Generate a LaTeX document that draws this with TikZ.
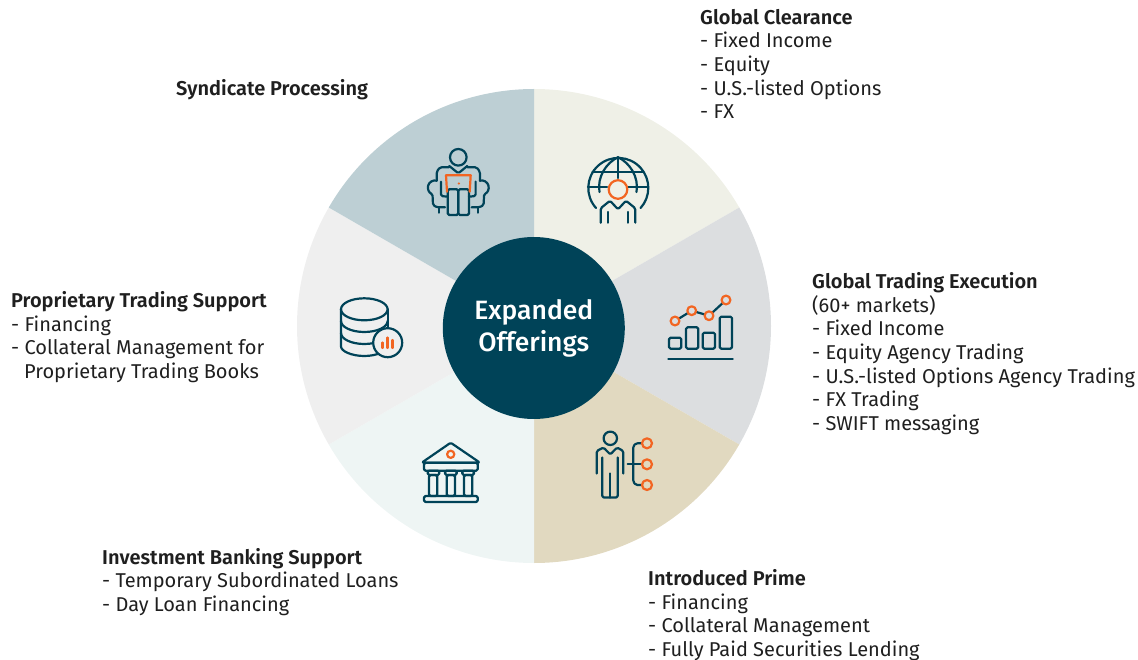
\documentclass[tikz,border=0pt]{standalone}
\usepackage{fontspec}
\setmainfont{Fira Sans}
\newfontfamily\headfont{Fira Sans SemiBold}
\newfontfamily\hubfont{Fira Sans Medium}
\newcommand{\hd}[1]{{\headfont #1}}
\definecolor{teal}{HTML}{004358}
\definecolor{orng}{HTML}{F26522}
\definecolor{txt}{HTML}{1F1F1F}
\definecolor{sa}{HTML}{EFF0E7}
\definecolor{sb}{HTML}{DCDEE0}
\definecolor{sc}{HTML}{E1D9C0}
\definecolor{sd}{HTML}{EEF5F4}
\definecolor{se}{HTML}{EFEFEF}
\definecolor{sf}{HTML}{BDCFD4}
\tikzset{
  icon/.style={draw=teal,line width=2.2pt,line join=round,line cap=round,rounded corners=1.5pt},
  accent/.style={draw=orng,line width=2.2pt,line join=round,line cap=round},
  label/.style={anchor=north west,inner sep=0pt,align=left,text=txt,font=\fontsize{20}{23.6}\selectfont},
  hub/.style={circle,fill=teal,minimum size=182pt,inner sep=0pt,text=white,align=center,font=\fontsize{26.5}{32}\selectfont\hubfont}
}
\newcommand{\sect}[3]{\fill[#3] (534,326) -- +(#1:237pt) arc[start angle=#1,end angle=#2,radius=237pt] -- cycle;}
\begin{document}
\begin{tikzpicture}[x=1pt,y=-1pt]
\useasboundingbox (0,0) rectangle (1138,660);
\sect{90}{30}{sa}
\sect{30}{-30}{sb}
\sect{-30}{-90}{sc}
\sect{-90}{-150}{sd}
\sect{-150}{-210}{se}
\sect{150}{90}{sf}
\node[hub] (hub) at (533.8,328) {Expanded\\Offerings};
% syndicate icon
\draw[icon] (458.3,157.3) circle[radius=8.3];
\draw[icon] (449.3,166) -- (458.3,173.3) -- (467.3,166);
\draw[icon] (436.7,180.7) -- (436.7,171.7) -- (440,167.3) -- (449,167.3);
\draw[icon] (479.9,180.7) -- (479.9,171.7) -- (476.6,167.3) -- (467.6,167.3);
\draw[icon] (436.7,180.7) arc[start angle=75,end angle=250,radius=7pt] -- (433,205) -- (437,207.3) -- (445,207.3);
\draw[icon] (479.9,180.7) arc[start angle=105,end angle=-70,radius=7pt] -- (483.6,205) -- (479.6,207.3) -- (471.6,207.3);
\draw[icon] (441,181.7) -- (441,196) -- (447.7,196.7);
\draw[icon] (475.6,181.7) -- (475.6,196) -- (468.9,196.7);
\draw[icon] (439,207.3) -- (439,212.7);
\draw[icon] (477.6,207.3) -- (477.6,212.7);
\draw[icon] (447.7,189.3) rectangle (458.3,215);
\draw[icon] (458.3,189.3) rectangle (469,215);
\draw[accent] (447,191.7) -- (446,175.3) -- (470.7,175.3) -- (469.7,191.7);
\fill[orng] (458.8,183.5) circle[radius=1.2];
% globe icon
\draw[icon] (596,208) arc[start angle=222,end angle=-42,radius=30pt];
\draw[icon] (618,157.2) .. controls (606,163) and (597,177) .. (599.5,192);
\draw[icon] (618,157.2) .. controls (630,163) and (639,177) .. (636.5,192);
\draw[icon] (618,157.2) -- (618,178);
\draw[icon] (592.4,171.7) -- (643.6,171.7);
\draw[icon] (588,187) -- (607,187);
\draw[icon] (628.5,187) -- (648,187);
\draw[accent] (618,189.5) circle[radius=9.3];
\draw[icon] (600.7,222.7) -- (600.7,208.3) -- (610,200.7) -- (618,209.3) -- (626,200.7) -- (635.3,208.3) -- (635.3,222.7);
\draw[icon] (608,212) -- (608,222.7);
\draw[icon] (628,212) -- (628,222.7);
% chart icon
\draw[icon] (669,337.7) rectangle (681.3,348.7);
\draw[icon] (686,327.3) rectangle (698.3,348.7);
\draw[icon] (702.7,332.7) rectangle (715,348.7);
\draw[icon] (719.7,316.7) rectangle (732,348.7);
\draw[icon] (668.3,359) -- (732.7,359);
\coordinate (p1) at (675,321);
\coordinate (p2) at (691.7,310.7);
\coordinate (p3) at (709,315.7);
\coordinate (p4) at (726,300);
\draw[icon] (p1) -- (p2) -- (p3) -- (p4);
\foreach \p in {p1,p2,p3,p4} \draw[accent,fill=sb] (\p) circle[radius=4.4];
% person-tree icon
\draw[icon] (610.3,438.3) circle[radius=6.7];
\draw[icon] (596.7,473.5) -- (596.7,451) -- (603.5,447.5) -- (610.3,454.5) -- (617,447.5) -- (623.3,451) -- (623.3,473.5);
\draw[icon] (602.3,457.5) -- (602.3,497.5) -- (617.7,497.5) -- (617.7,457.5);
\draw[icon] (610,473.5) -- (610,497.5);
\draw[icon] (641.7,443.3) -- (636,443.3) -- (633.3,446) -- (633.3,482) -- (636,485) -- (641.7,485);
\draw[icon] (627.7,464.3) -- (641.7,464.3);
\draw[accent] (647,443.3) circle[radius=5];
\draw[accent] (647,464.3) circle[radius=5];
\draw[accent] (647,485) circle[radius=5];
% bank icon
\draw[icon] (421.7,462.7) -- (450.7,442.7) -- (480,462.7) -- cycle;
\draw[icon] (424,462.7) rectangle (477.7,470.7);
\draw[icon] (427.7,470.7) rectangle (439.3,475);
\draw[icon] (445,470.7) rectangle (456.7,475);
\draw[icon] (462.3,470.7) rectangle (474,475);
\draw[icon] (429,475) rectangle (437.3,496);
\draw[icon] (446.7,475) rectangle (455,496);
\draw[icon] (464,475) rectangle (472.3,496);
\draw[icon] (424,496) rectangle (477.7,502);
\draw[accent] (450.7,454.3) circle[radius=3.6];
% database icon
\draw[icon] (364.3,309.3) ellipse[x radius=23.3pt,y radius=11pt];
\draw[icon] (341,309.3) -- (341,345) arc[start angle=180,end angle=360,x radius=23.3pt,y radius=11pt];
\draw[icon] (387.7,309.3) -- (387.7,345);
\draw[icon] (341,321) arc[start angle=180,end angle=360,x radius=23.3pt,y radius=11pt];
\draw[icon] (341,333) arc[start angle=180,end angle=360,x radius=23.3pt,y radius=11pt];
\draw[icon,fill=se] (387.7,342.7) circle[radius=14.5];
\draw[accent] (382.5,342.5) -- (382.5,348);
\draw[accent] (387.5,337.5) -- (387.5,348);
\draw[accent] (392.5,340) -- (392.5,348);
% labels
\node[label] (lsyn) at (176,79.5) {\hd{Syndicate Processing}};
\node[label] (lclr) at (700,9) {\hd{Global Clearance}\\- Fixed Income\\- Equity\\- U.S.-listed Options\\- FX};
\node[label] (lexe) at (812,272.5) {\hd{Global Trading Execution}\\(60+ markets)\\- Fixed Income\\- Equity Agency Trading\\- U.S.-listed Options Agency Trading\\- FX Trading\\- SWIFT messaging};
\node[label] (lpri) at (648,569.5) {\hd{Introduced Prime}\\- Financing\\- Collateral Management\\- Fully Paid Securities Lending};
\node[label] (lban) at (102,548) {\hd{Investment Banking Support}\\- Temporary Subordinated Loans\\- Day Loan Financing};
\node[label] (lprp) at (11,291.5) {\hd{Proprietary Trading Support}\\- Financing\\- Collateral Management for\\\hspace*{13pt}Proprietary Trading Books};
\end{tikzpicture}
\end{document}
